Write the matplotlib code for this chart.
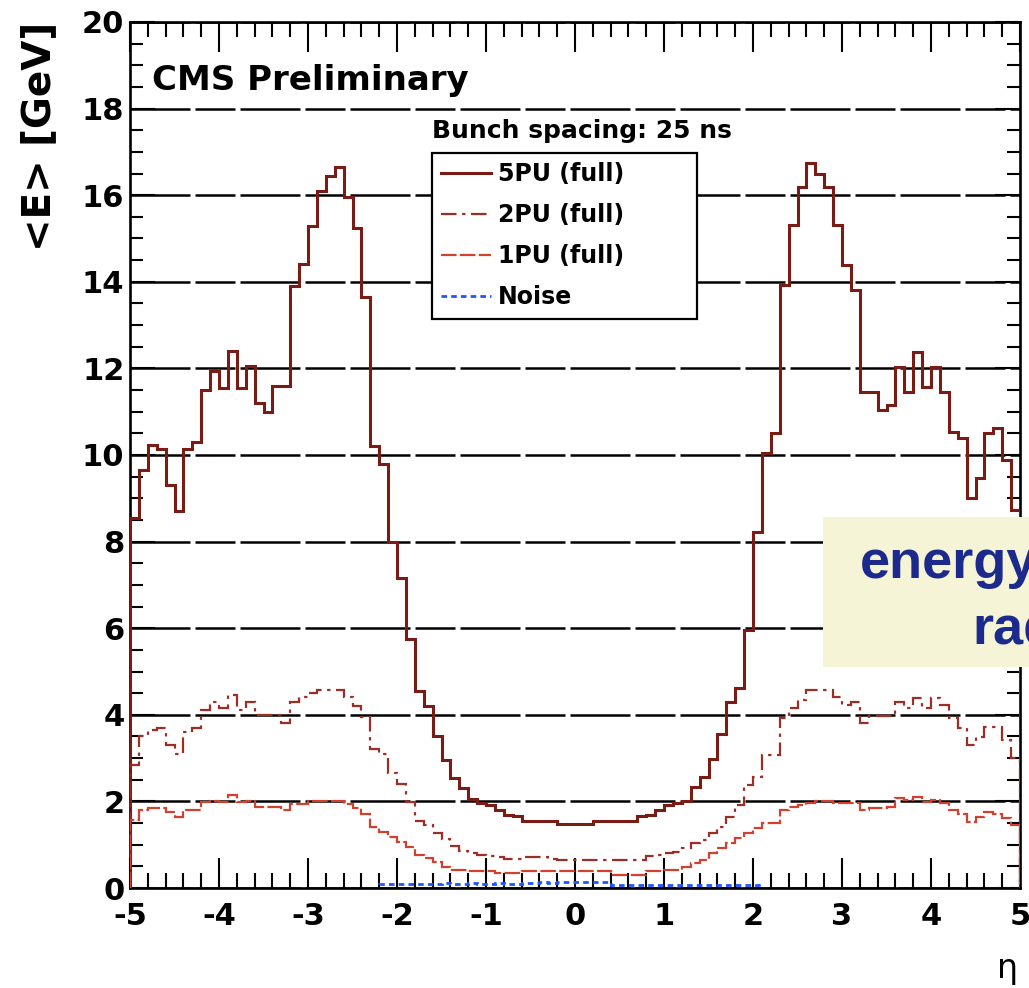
import numpy as np
import matplotlib
matplotlib.use('Agg')
import matplotlib.pyplot as plt
from matplotlib.ticker import MultipleLocator
from matplotlib.patches import Rectangle

# eta binning: 100 bins from -5 to 5
eta_edges = np.linspace(-5, 5, 101)

pu5 = [8.55, 9.65, 10.22, 10.15, 9.3, 8.7, 10.15, 10.3, 11.5, 11.95,
       11.55, 12.4, 11.55, 12.05, 11.2, 11.0, 11.6, 11.6, 13.9, 14.4,
       15.3, 16.1, 16.45, 16.65, 15.95, 15.25, 13.65, 10.2, 9.8, 8.0,
       7.15, 5.75, 4.55, 4.2, 3.5, 2.95, 2.55, 2.3, 2.05, 1.96,
       1.92, 1.8, 1.69, 1.67, 1.55, 1.55, 1.55, 1.55, 1.48, 1.48,
       1.48, 1.48, 1.55, 1.55, 1.55, 1.55, 1.55, 1.67, 1.69, 1.8,
       1.92, 1.97, 2.0, 2.34, 2.57, 2.97, 3.56, 4.3, 4.63, 5.96,
       8.23, 10.04, 10.5, 13.93, 15.31, 16.2, 16.74, 16.5, 16.2, 15.31,
       14.39, 13.81, 11.46, 11.46, 11.04, 11.15, 12.04, 11.46, 12.39, 11.58,
       12.04, 11.46, 10.54, 10.39, 9.0, 9.46, 10.5, 10.62, 9.88, 8.73]

pu2 = [2.85, 3.5, 3.65, 3.7, 3.3, 3.1, 3.6, 3.7, 4.1, 4.3,
       4.15, 4.45, 4.1, 4.3, 4.0, 4.0, 4.0, 3.8, 4.3, 4.4,
       4.5, 4.57, 4.57, 4.57, 4.4, 4.2, 3.95, 3.2, 3.1, 2.65,
       2.4, 1.98, 1.55, 1.45, 1.28, 1.13, 0.97, 0.86, 0.8, 0.77,
       0.74, 0.72, 0.68, 0.68, 0.72, 0.72, 0.72, 0.66, 0.65, 0.65,
       0.65, 0.64, 0.64, 0.64, 0.64, 0.64, 0.64, 0.64, 0.74, 0.76,
       0.8, 0.82, 0.92, 1.03, 1.1, 1.26, 1.42, 1.65, 1.92, 2.38,
       2.57, 3.07, 3.07, 3.92, 4.15, 4.34, 4.57, 4.57, 4.57, 4.42,
       4.23, 4.3, 3.8, 3.97, 3.97, 3.97, 4.3, 4.15, 4.38, 4.15,
       4.38, 4.23, 3.92, 3.69, 3.3, 3.49, 3.72, 3.72, 3.42, 3.0]

pu1 = [1.57, 1.8, 1.84, 1.84, 1.76, 1.65, 1.8, 1.8, 1.99, 2.02,
       1.99, 2.15, 1.99, 2.0, 1.88, 1.88, 1.88, 1.8, 1.95, 1.95,
       2.0, 2.0, 2.0, 2.0, 1.95, 1.84, 1.72, 1.42, 1.3, 1.18,
       1.07, 0.95, 0.76, 0.69, 0.61, 0.49, 0.42, 0.42, 0.4, 0.4,
       0.4, 0.34, 0.34, 0.34, 0.4, 0.4, 0.4, 0.4, 0.4, 0.4,
       0.4, 0.4, 0.4, 0.4, 0.31, 0.31, 0.31, 0.31, 0.4, 0.4,
       0.42, 0.42, 0.49, 0.57, 0.65, 0.8, 0.92, 1.03, 1.15, 1.26,
       1.38, 1.49, 1.49, 1.8, 1.88, 1.92, 1.96, 2.02, 2.02, 1.97,
       1.97, 1.97, 1.8, 1.84, 1.84, 1.88, 2.07, 2.03, 2.11, 1.99,
       2.03, 1.96, 1.8, 1.72, 1.53, 1.65, 1.76, 1.72, 1.61, 1.45]

noise = [0] * 28 + \
        [0.1, 0.1, 0.09, 0.1, 0.1, 0.09, 0.1, 0.11, 0.1, 0.09,
         0.11, 0.1, 0.1, 0.11, 0.1, 0.1, 0.12, 0.12, 0.13, 0.12,
         0.15, 0.15, 0.14, 0.15, 0.15, 0.14,
         0.08, 0.07, 0.08, 0.07, 0.08, 0.07, 0.07, 0.08, 0.07, 0.08,
         0.07, 0.07, 0.08, 0.07, 0.07, 0.08, 0.07] + [0] * 29

labels = ["5PU (full)", "2PU (full)", "1PU (full)", "Noise"]
colors = ["#7a1c16", "#9c2e26", "#d2402f", "#1f55ff"]

W, H = 1029, 988
def fx(px):
    return px / W
def fy(py):
    return 1 - py / H

plt.rcParams['font.family'] = 'DejaVu Sans'
plt.rcParams['axes.unicode_minus'] = False

fig = plt.figure(figsize=(W / 100, H / 100), dpi=100)
ax = fig.add_axes([fx(130), fy(888), fx(890), 866 / H])

ax.stairs(pu5, eta_edges, color=colors[0], lw=2.2, label=labels[0], zorder=3)
ax.stairs(pu2, eta_edges, color=colors[1], lw=1.6, linestyle=(0, (7, 2.5, 1.5, 2.5)),
          label=labels[1], zorder=3)
ax.stairs(pu1, eta_edges, color=colors[2], lw=1.6, linestyle=(0, (7, 1.5)),
          label=labels[2], zorder=3)
ax.stairs(noise, eta_edges, color=colors[3], lw=2.0, linestyle=(0, (2, 1.5)),
          label=labels[3], zorder=2)

ax.set_xlim(-5, 5)
ax.set_ylim(0, 20)
ax.set_xticks(np.arange(-5, 6, 1))
ax.set_yticks(np.arange(0, 21, 2))
ax.xaxis.set_minor_locator(MultipleLocator(0.2))
ax.yaxis.set_minor_locator(MultipleLocator(0.5))
ax.grid(axis='y', which='major', color='black', lw=1.8, linestyle=(0, (24, 2, 16, 2)))
ax.set_axisbelow(True)

ax.tick_params(which='both', direction='in', top=True, right=True, width=1.5, colors='black')
ax.tick_params(axis='x', which='major', length=21.6, pad=10)
ax.tick_params(axis='x', which='minor', length=10.8)
ax.tick_params(axis='y', which='major', length=18, pad=4)
ax.tick_params(axis='y', which='minor', length=9.4)
for lab in ax.get_xticklabels() + ax.get_yticklabels():
    lab.set_fontsize(22)
    lab.set_fontweight('bold')
for sp in ax.spines.values():
    sp.set_linewidth(1.9)

fig.text(fx(39), fy(22), "<E> [GeV]", rotation=90, ha='center', va='top',
         fontsize=28, fontweight='bold')
fig.text(fx(1018), fy(968), "η", ha='right', va='center', fontsize=24)
fig.text(fx(152), fy(90), "CMS Preliminary", ha='left', va='baseline',
         fontsize=24.5, fontweight='bold')
fig.text(fx(432), fy(138), "Bunch spacing: 25 ns", ha='left', va='baseline',
         fontsize=18, fontweight='bold')

leg = ax.legend(loc='upper left', bbox_to_anchor=(fx(432), fy(315), fx(265), 162 / H),
                bbox_transform=fig.transFigure, mode='expand', fancybox=False,
                framealpha=1, edgecolor='black', handlelength=2.1, handletextpad=0.3,
                labelspacing=0.72, borderpad=0.4, borderaxespad=0,
                prop={'family': 'DejaVu Sans', 'weight': 'bold', 'size': 17})
leg.get_frame().set_linewidth(1.6)
leg.set_zorder(5)

# slide overlay box at the right edge
fig.add_artist(Rectangle((fx(823), fy(667)), fx(230), 150 / H, transform=fig.transFigure,
                         facecolor='#f5f4d6', edgecolor='none', zorder=5))
fig.text(fx(860), fy(578), "energy", ha='left', va='baseline', fontsize=39,
         fontweight='bold', family='Liberation Sans', color='#1b2a8c', zorder=6)
fig.text(fx(972), fy(643), "rad", ha='left', va='baseline', fontsize=39,
         fontweight='bold', family='Liberation Sans', color='#1b2a8c', zorder=6)

fig.savefig('out.png', dpi=100)
